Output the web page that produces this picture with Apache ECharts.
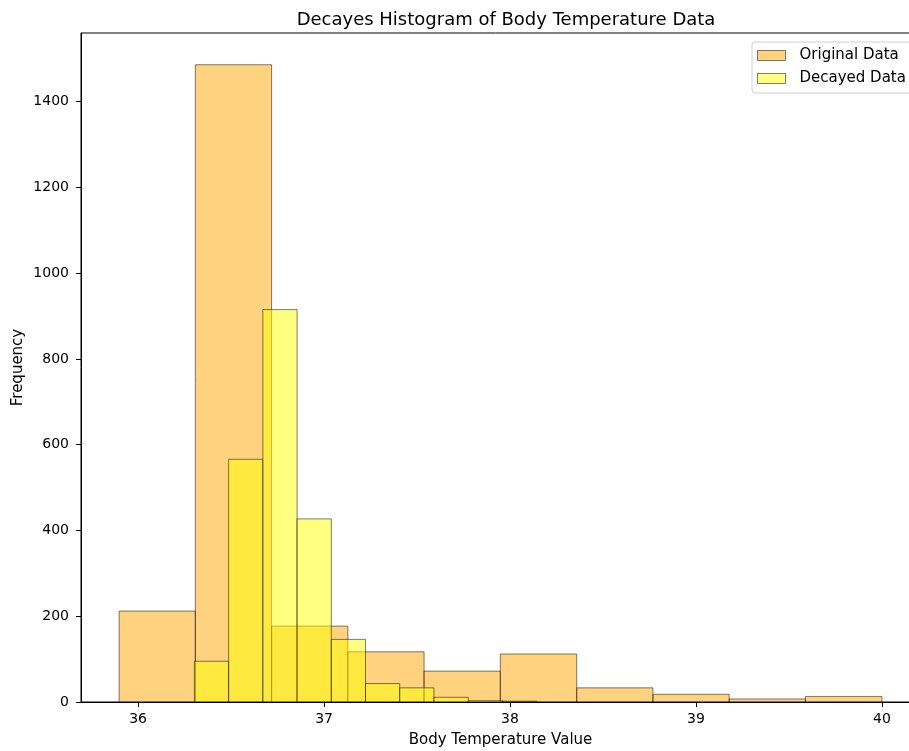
<!DOCTYPE html>
<html>
<head>
<meta charset="utf-8">
<script src="https://cdn.jsdelivr.net/npm/echarts@6/dist/echarts.min.js"></script>
<style>html,body{margin:0;padding:0;background:#fff;}#chart{width:909px;height:751px;}</style>
</head>
<body>
<div id="chart"></div>
<script>
// Original data histogram: bin edges and counts
const origEdges = [35.898, 36.308, 36.718, 37.128, 37.538, 37.948, 38.359, 38.769, 39.179, 39.589, 40.0];
const origCounts = [212, 1486, 177, 117, 72, 112, 33, 18, 7, 13];
// Decayed data histogram: bin edges and counts
const decEdges = [36.303, 36.487, 36.671, 36.855, 37.039, 37.223, 37.407, 37.591, 37.776, 37.960, 38.144];
const decCounts = [95, 566, 915, 427, 146, 43, 33, 11, 3, 2];
// tick labels
const xTicks = [36, 37, 38, 39, 40];
const yTicks = [0, 200, 400, 600, 800, 1000, 1200, 1400];

const FONT = 'DejaVu Sans';
const origFill = 'rgba(255,165,0,0.5)';
const decFill = 'rgba(255,255,0,0.5)';
const edge = 'rgba(0,0,0,0.5)';

function toData(edges, counts) {
  return counts.map((c, i) => [edges[i], edges[i + 1], c]);
}
function makeRender(fill) {
  return function (params, api) {
    const x0 = api.value(0), x1 = api.value(1), y = api.value(2);
    const p0 = api.coord([x0, y]);
    const p1 = api.coord([x1, 0]);
    return {
      type: 'rect',
      shape: { x: p0[0], y: p0[1], width: p1[0] - p0[0], height: p1[1] - p0[1] },
      style: { fill: fill, stroke: edge, lineWidth: 1 }
    };
  };
}

const chart = echarts.init(document.getElementById('chart'));
chart.setOption({
  animation: false,
  backgroundColor: '#fff',
  title: {
    text: 'Decayes Histogram of Body Temperature Data',
    left: 501, top: 6, textAlign: 'center',
    textStyle: { fontFamily: FONT, fontSize: 18, fontWeight: 'normal', color: '#000' }
  },
  legend: {
    orient: 'vertical', left: 752, top: 42,
    padding: [6, 20, 7, 5], itemGap: 8, itemWidth: 28, itemHeight: 10,
    borderColor: '#d0d0d0', borderWidth: 1, borderRadius: 3,
    textStyle: { fontFamily: FONT, fontSize: 15, color: '#000', padding: [0, 0, 0, 9] },
    data: [
      { name: 'Original Data', icon: 'rect', itemStyle: { color: origFill, borderColor: edge, borderWidth: 1 } },
      { name: 'Decayed Data', icon: 'rect', itemStyle: { color: decFill, borderColor: edge, borderWidth: 1 } }
    ]
  },
  grid: {
    left: 81, top: 33, right: -11, bottom: 49,
    outerBoundsMode: 'none', containLabel: false,
    show: true, borderColor: '#000', borderWidth: 1, backgroundColor: 'transparent'
  },
  xAxis: {
    type: 'value', min: 35.693, max: 40.205,
    name: 'Body Temperature Value', nameLocation: 'middle', nameGap: 31, nameMoveOverlap: false,
    nameTextStyle: { fontFamily: FONT, fontSize: 15, color: '#000' },
    axisLine: { show: true, lineStyle: { color: '#000', width: 1 } },
    axisTick: { show: true, length: 5, customValues: xTicks, lineStyle: { color: '#000' } },
    axisLabel: { customValues: xTicks, fontFamily: FONT, fontSize: 14, color: '#000', margin: 10 },
    splitLine: { show: false }
  },
  yAxis: {
    type: 'value', min: 0, max: 1560,
    name: 'Frequency', nameLocation: 'middle', nameGap: 55, nameMoveOverlap: false,
    nameTextStyle: { fontFamily: FONT, fontSize: 15, color: '#000' },
    axisLine: { show: true, lineStyle: { color: '#000', width: 1 } },
    axisTick: { show: true, length: 5, customValues: yTicks, lineStyle: { color: '#000' } },
    axisLabel: { customValues: yTicks, formatter: v => String(v), fontFamily: FONT, fontSize: 14, color: '#000', margin: 12 },
    splitLine: { show: false }
  },
  series: [
    {
      name: 'Original Data', type: 'custom', renderItem: makeRender(origFill),
      itemStyle: { color: origFill, borderColor: edge },
      encode: { x: [0, 1], y: 2 }, data: toData(origEdges, origCounts), z: 2
    },
    {
      name: 'Decayed Data', type: 'custom', renderItem: makeRender(decFill),
      itemStyle: { color: decFill, borderColor: edge },
      encode: { x: [0, 1], y: 2 }, data: toData(decEdges, decCounts), z: 3
    }
  ]
});
</script>
</body>
</html>
